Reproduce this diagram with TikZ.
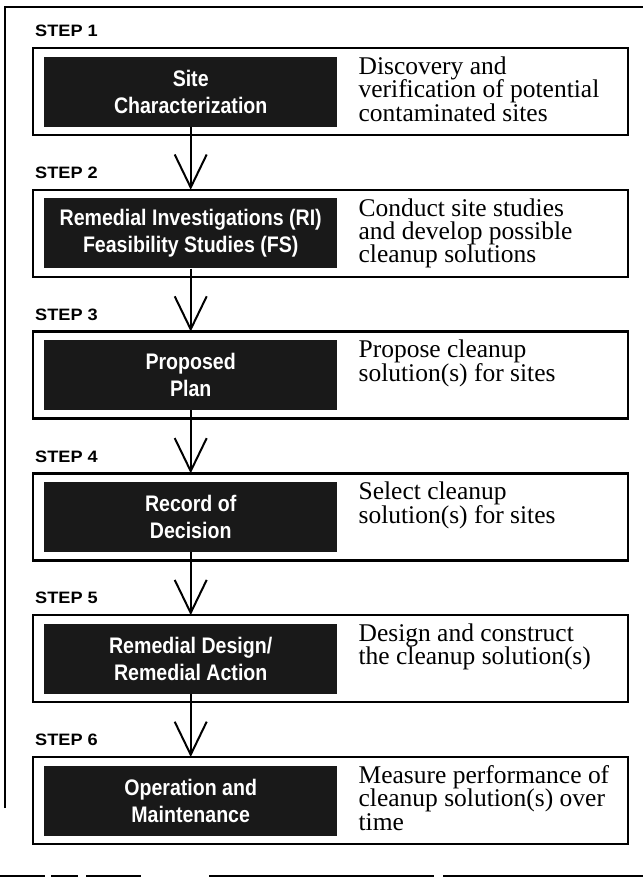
\documentclass[tikz,border=0pt]{standalone}
\usepackage{fontspec}
\setmainfont{Liberation Serif}
\newfontfamily\boxfont[FakeStretch=0.87]{Liberation Sans}
\newfontfamily\labelfont[FakeStretch=1.1]{Liberation Sans}
\usetikzlibrary{positioning, arrows.meta}
\tikzstyle{stepFrame} = [rectangle, draw=black, line width=2.5pt, minimum width=595pt, minimum height=87pt, outer sep=0pt, inner sep=0pt]
\tikzstyle{stepBox} = [rectangle, fill=black!90, text=white, minimum width=293pt, minimum height=70pt, text centered, align=center, inner sep=0pt, font=\boxfont\bfseries\fontsize{22.5}{27}\selectfont]
\tikzstyle{stepText} = [align=left, inner sep=0pt, font=\fontsize{25.5}{23.5}\selectfont]
\tikzstyle{stepLabel} = [inner sep=0pt, font=\labelfont\bfseries\fontsize{16.5}{16.5}\selectfont]
\tikzstyle{arrow} = [line width=2pt, -{Straight Barb[length=33pt, width=32pt]}]
\tikzstyle{scanLine} = [line width=2pt]

\begin{document}
\begin{tikzpicture} [x=1pt, y=1pt, node distance=54.8pt]
        \useasboundingbox (0,0) rectangle (643,-895);

        \node (frame1) [stepFrame] at (330.5,-91.5) {};
        \node (frame2) [stepFrame, below=of frame1] {};
        \node (frame3) [stepFrame, below=of frame2] {};
        \node (frame4) [stepFrame, below=of frame3] {};
        \node (frame5) [stepFrame, below=of frame4] {};
        \node (frame6) [stepFrame, below=of frame5] {};

        \node (label1) [stepLabel, above right=11pt and 2pt of frame1.north west] {STEP 1};
        \node (label2) [stepLabel, above right=11pt and 2pt of frame2.north west] {STEP 2};
        \node (label3) [stepLabel, above right=11pt and 2pt of frame3.north west] {STEP 3};
        \node (label4) [stepLabel, above right=11pt and 2pt of frame4.north west] {STEP 4};
        \node (label5) [stepLabel, above right=11pt and 2pt of frame5.north west] {STEP 5};
        \node (label6) [stepLabel, above right=11pt and 2pt of frame6.north west] {STEP 6};

        \node (site) [stepBox, right=11pt of frame1.west] {Site\\Characterization};
        \node (remInv) [stepBox, right=11pt of frame2.west] {Remedial Investigations (RI)\\Feasibility Studies (FS)};
        \node (plan) [stepBox, right=11pt of frame3.west] {Proposed\\Plan};
        \node (record) [stepBox, right=11pt of frame4.west] {Record of\\Decision};
        \node (design) [stepBox, right=11pt of frame5.west] {Remedial Design/\\Remedial Action};
        \node (operation) [stepBox, right=11pt of frame6.west] {Operation and\\Maintenance};

        \node (desc1) [stepText, below right=0pt and 21pt of site.north east] {Discovery and\\verification of potential\\contaminated sites};
        \node (desc2) [stepText, below right=0pt and 21pt of remInv.north east] {Conduct site studies\\and develop possible\\cleanup solutions};
        \node (desc3) [stepText, below right=0pt and 21pt of plan.north east] {Propose cleanup\\solution(s) for sites};
        \node (desc4) [stepText, below right=0pt and 21pt of record.north east] {Select cleanup\\solution(s) for sites};
        \node (desc5) [stepText, below right=0pt and 21pt of design.north east] {Design and construct\\the cleanup solution(s)};
        \node (desc6) [stepText, below right=0pt and 21pt of operation.north east] {Measure performance of\\cleanup solution(s) over\\time};

        \draw[arrow] (site.south) -- (site.south |- frame2.north);
        \draw[arrow] (remInv.south) -- (remInv.south |- frame3.north);
        \draw[arrow] (plan.south) -- (plan.south |- frame4.north);
        \draw[arrow] (record.south) -- (record.south |- frame5.north);
        \draw[arrow] (design.south) -- (design.south |- frame6.north);

        % edges of the scanned page
        \draw[scanLine] (5,-808) -- (5,-7) -- (643,-7);
        \draw[scanLine, dash pattern=on 45pt off 6pt on 27pt off 8pt on 55pt off 68pt on 225pt off 9pt on 200pt] (0,-876) -- (643,-876);

    \end{tikzpicture}
\end{document}
